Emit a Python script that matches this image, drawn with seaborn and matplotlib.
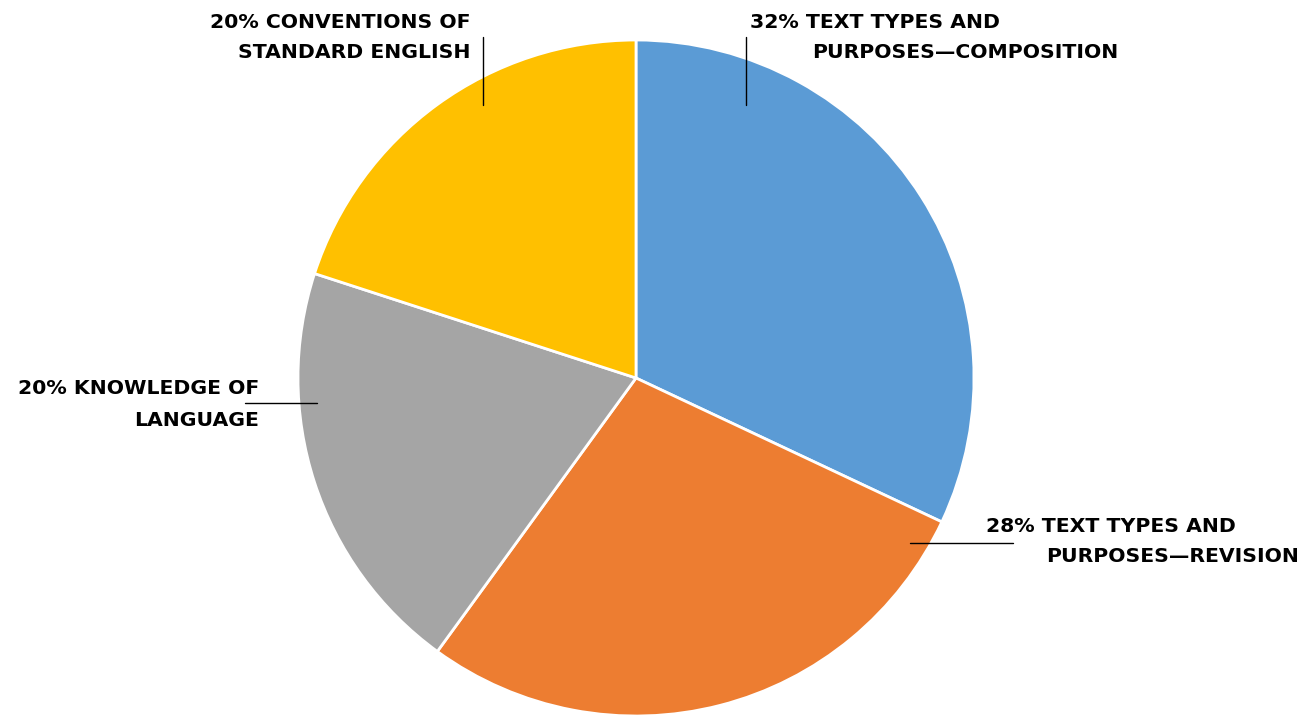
import matplotlib
matplotlib.use("Agg")
import matplotlib.pyplot as plt
import seaborn as sns

categories = [
    "TEXT TYPES AND PURPOSES\u2014COMPOSITION",
    "TEXT TYPES AND PURPOSES\u2014REVISION",
    "KNOWLEDGE OF LANGUAGE",
    "CONVENTIONS OF STANDARD ENGLISH",
]
shares = [32, 28, 20, 20]
label_lines = [
    ["32% TEXT TYPES AND", "PURPOSES\u2014COMPOSITION"],
    ["28% TEXT TYPES AND", "PURPOSES\u2014REVISION"],
    ["20% KNOWLEDGE OF", "LANGUAGE"],
    ["20% CONVENTIONS OF", "STANDARD ENGLISH"],
]
colors = ["#5B9BD5", "#ED7D31", "#A5A5A5", "#FFC000"]

# label layout in pixels: (x, y, ha) per line, and leader line endpoints
label_pos = [
    [(750, 22, "left"), (812, 53, "left")],
    [(986, 526, "left"), (1046, 557, "left")],
    [(259, 389, "right"), (259, 421, "right")],
    [(471, 22, "right"), (471, 53, "right")],
]
leaders = [
    ((746, 37), (746, 105)),
    ((910, 543), (1013, 543)),
    ((245, 403), (317, 403)),
    ((483, 37), (483, 105)),
]

sns.set_style("white")
W, H = 1314, 717
fig = plt.figure(figsize=(W / 100, H / 100), dpi=100)
ax = fig.add_axes([0, 0, 1, 1])
ax.set_aspect("equal")
ax.axis("off")

ax.pie(shares, colors=colors, startangle=90, counterclock=False,
       center=(636, H - 378), radius=338,
       wedgeprops=dict(edgecolor="white", linewidth=2))
ax.set_xlim(0, W)
ax.set_ylim(0, H)

for lines, pos in zip(label_lines, label_pos):
    for txt, (x, y, ha) in zip(lines, pos):
        ax.text(x, H - y, txt, ha=ha, va="center", fontsize=14.7,
                fontweight="bold", family="DejaVu Sans", color="black")

for (x0, y0), (x1, y1) in leaders:
    ax.plot([x0, x1], [H - y0, H - y1], color="black", linewidth=1)

fig.savefig("out.png", dpi=100)
